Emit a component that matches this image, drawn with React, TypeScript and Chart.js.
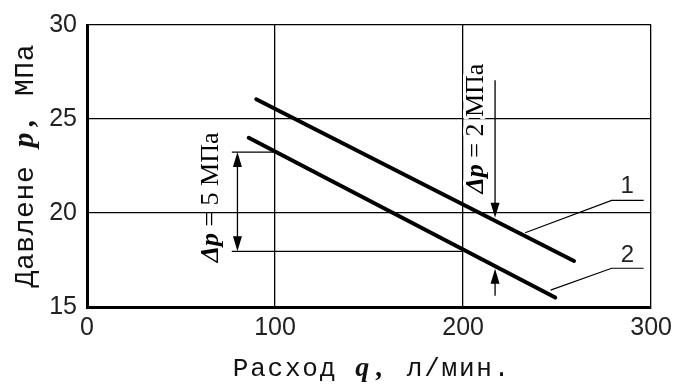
import React, { useEffect, useRef } from "react";
import { Chart, registerables } from "chart.js";

Chart.register(...registerables);

// ---- data (chart units: q in л/мин, p in МПа) ----
const xTickValues = [0, 100, 200, 300];
const yTickValues = [15, 20, 25, 30];

const line1Flow = [90, 259];
const line1Pressure = [26.05, 17.45];
const line2Flow = [86, 249];
const line2Pressure = [24.0, 15.5];

const seriesLabels = ["1", "2"];

const xTitleParts = ["Расход ", "q,", " л/мин."];
const yTitleParts = ["Давлене ", "p,", " МПа"];

// Δp = 5 МПа dimension (line 2 between q = 100 and q = 200)
const dp5Text = ["Δp", " = 5 МПа"];
const dp5RefFlow = [100, 200];
const dp5Levels = [23.24, 17.96];
const dp5TickStart = 77;
const dp5ArrowFlow = 80;
const dp5TextAt = [69.7, 20.83];

// Δp = 2 МПа dimension (between lines 1 and 2 at q ≈ 217)
const dp2Text = ["Δp", " = 2 МПа"];
const dp2ArrowFlow = 217;
const dp2UpperArrow = [27.06, 19.75];
const dp2LowerArrow = [15.6, 17.03];
const dp2TextAt = [210.8, 24.49];

// leader lines for curve numbers
const leader1Flow = [233, 279, 296];
const leader1Pressure = [18.95, 20.67, 20.67];
const leader2Flow = [246.5, 279, 296];
const leader2Pressure = [15.9, 17.06, 17.06];
const labelPos1 = [287.2, 21.07];
const labelPos2 = [287.4, 17.37];

const SERIF = '"Liberation Serif", "Times New Roman", serif';
const MONO = '"Liberation Mono", "Courier New", monospace';
const SANS = '"Liberation Sans", Arial, sans-serif';

function arrowHead(ctx: CanvasRenderingContext2D, x: number, tipY: number, dir: number) {
  const len = 15;
  const hw = 4.5;
  ctx.beginPath();
  ctx.moveTo(x, tipY);
  ctx.lineTo(x - hw, tipY - dir * len);
  ctx.lineTo(x + hw, tipY - dir * len);
  ctx.closePath();
  ctx.fill();
}

function drawCellTitle(
  ctx: CanvasRenderingContext2D,
  parts: string[],
  monoFont: string,
  emFont: string,
  cell: number,
  cx: number,
  cy: number,
  rotate: boolean
) {
  const chars: { c: string; f: string }[] = [];
  parts.forEach((p, i) => {
    for (const c of p) chars.push({ c, f: i === 1 ? emFont : monoFont });
  });
  const total = chars.length * cell;
  ctx.save();
  ctx.translate(cx, cy);
  if (rotate) ctx.rotate(-Math.PI / 2);
  ctx.fillStyle = "#111";
  ctx.textAlign = "center";
  ctx.textBaseline = "alphabetic";
  chars.forEach((ch, i) => {
    ctx.font = ch.f;
    ctx.fillText(ch.c, -total / 2 + i * cell + cell / 2, 0);
  });
  ctx.restore();
}

function drawRotatedRuns(
  ctx: CanvasRenderingContext2D,
  runs: string[],
  emFont: string,
  font: string,
  baselineX: number,
  centerY: number,
  halo: boolean
) {
  ctx.save();
  ctx.translate(baselineX, centerY);
  ctx.rotate(-Math.PI / 2);
  ctx.textAlign = "left";
  ctx.textBaseline = "alphabetic";
  const fonts = [emFont, font];
  let total = 0;
  runs.forEach((r, i) => {
    ctx.font = fonts[i];
    total += ctx.measureText(r).width;
  });
  let x = -total / 2;
  runs.forEach((r, i) => {
    ctx.font = fonts[i];
    if (halo) {
      ctx.strokeStyle = "#fff";
      ctx.lineWidth = 6;
      ctx.lineJoin = "round";
      ctx.strokeText(r, x, 0);
    }
    ctx.fillStyle = "#000";
    ctx.fillText(r, x, 0);
    x += ctx.measureText(r).width;
  });
  ctx.restore();
}

const annotationPlugin = {
  id: "annotations",
  afterDatasetsDraw(chart: any) {
    const ctx: CanvasRenderingContext2D = chart.ctx;
    const xs = chart.scales.x;
    const ys = chart.scales.y;
    const X = (v: number) => xs.getPixelForValue(v);
    const Y = (v: number) => ys.getPixelForValue(v);
    const area = chart.chartArea;

    ctx.save();
    ctx.strokeStyle = "#000";
    ctx.fillStyle = "#000";
    ctx.lineWidth = 1.3;

    ctx.beginPath();
    ctx.moveTo(X(dp5TickStart), Y(dp5Levels[0]));
    ctx.lineTo(X(dp5RefFlow[0]), Y(dp5Levels[0]));
    ctx.moveTo(X(dp5TickStart), Y(dp5Levels[1]));
    ctx.lineTo(X(dp5RefFlow[1]), Y(dp5Levels[1]));
    ctx.stroke();
    const ax = X(dp5ArrowFlow);
    ctx.beginPath();
    ctx.moveTo(ax, Y(dp5Levels[0]) + 10);
    ctx.lineTo(ax, Y(dp5Levels[1]) - 10);
    ctx.stroke();
    arrowHead(ctx, ax, Y(dp5Levels[0]), -1);
    arrowHead(ctx, ax, Y(dp5Levels[1]), 1);

    const bx = X(dp2ArrowFlow);
    ctx.beginPath();
    ctx.moveTo(bx, Y(dp2UpperArrow[0]));
    ctx.lineTo(bx, Y(dp2UpperArrow[1]) - 10);
    ctx.moveTo(bx, Y(dp2LowerArrow[0]));
    ctx.lineTo(bx, Y(dp2LowerArrow[1]) + 10);
    ctx.stroke();
    arrowHead(ctx, bx, Y(dp2UpperArrow[1]), 1);
    arrowHead(ctx, bx, Y(dp2LowerArrow[1]), -1);

    const leaders = [
      [leader1Flow, leader1Pressure],
      [leader2Flow, leader2Pressure],
    ];
    ctx.lineWidth = 1.2;
    leaders.forEach(([fx, py]) => {
      ctx.beginPath();
      fx.forEach((f, i) => {
        if (i === 0) ctx.moveTo(X(f), Y(py[i]));
        else ctx.lineTo(X(f), Y(py[i]));
      });
      ctx.stroke();
    });

    ctx.font = `24px ${SANS}`;
    ctx.textAlign = "center";
    ctx.textBaseline = "alphabetic";
    ctx.fillStyle = "#222";
    ctx.fillText(seriesLabels[0], X(labelPos1[0]), Y(labelPos1[1]));
    ctx.fillText(seriesLabels[1], X(labelPos2[0]), Y(labelPos2[1]));
    ctx.restore();

    const em = `bold italic 26px ${SERIF}`;
    const reg = `26px ${SERIF}`;
    drawRotatedRuns(ctx, dp5Text, em, reg, X(dp5TextAt[0]), Y(dp5TextAt[1]), false);
    drawRotatedRuns(ctx, dp2Text, em, reg, X(dp2TextAt[0]), Y(dp2TextAt[1]), true);

    const cxMid = (area.left + area.right) / 2;
    const cyMid = (area.top + area.bottom) / 2;
    drawCellTitle(ctx, xTitleParts, `26px ${MONO}`, `bold italic 28px ${SERIF}`, 17.4, cxMid + 2, area.bottom + 69, false);
    drawCellTitle(ctx, yTitleParts, `28px ${MONO}`, `bold italic 30px ${SERIF}`, 17.4, area.left - 54, cyMid, true);
  },
};

export default function App() {
  const ref = useRef<HTMLCanvasElement | null>(null);

  useEffect(() => {
    if (!ref.current) return;
    const chart = new Chart(ref.current, {
      type: "line",
      data: {
        datasets: [
          {
            label: seriesLabels[0],
            data: line1Flow.map((q, i) => ({ x: q, y: line1Pressure[i] })),
            borderColor: "#000",
            borderWidth: 4,
            borderCapStyle: "round",
            pointRadius: 0,
            fill: false,
          },
          {
            label: seriesLabels[1],
            data: line2Flow.map((q, i) => ({ x: q, y: line2Pressure[i] })),
            borderColor: "#000",
            borderWidth: 4,
            borderCapStyle: "round",
            pointRadius: 0,
            fill: false,
          },
        ],
      },
      options: {
        animation: false,
        responsive: false,
        layout: { padding: { left: 0, top: 23, right: 22, bottom: 0 } },
        plugins: {
          legend: { display: false },
          tooltip: { enabled: false },
          title: { display: false },
        },
        scales: {
          x: {
            type: "linear",
            min: xTickValues[0],
            max: xTickValues[xTickValues.length - 1],
            afterBuildTicks: (s: any) => {
              s.ticks = xTickValues.map((v) => ({ value: v }));
            },
            afterFit: (s: any) => {
              s.height = 78;
            },
            ticks: {
              color: "#222",
              font: { family: SANS, size: 25 },
              padding: 6,
              maxRotation: 0,
              autoSkip: false,
            },
            grid: { color: "#000", lineWidth: 1.3, drawTicks: false },
            border: { display: true, color: "#000", width: 3 },
          },
          y: {
            type: "linear",
            min: yTickValues[0],
            max: yTickValues[yTickValues.length - 1],
            afterBuildTicks: (s: any) => {
              s.ticks = yTickValues.map((v) => ({ value: v }));
            },
            afterFit: (s: any) => {
              s.width = 87;
            },
            ticks: {
              color: "#222",
              font: { family: SANS, size: 25 },
              padding: 10,
              autoSkip: false,
            },
            grid: { color: "#000", lineWidth: 1.3, drawTicks: false },
            border: { display: true, color: "#000", width: 3 },
          },
        },
      } as any,
      plugins: [annotationPlugin],
    });
    return () => chart.destroy();
  }, []);

  return (
    <div style={{ position: "fixed", left: 0, top: 0, width: 678, height: 385, background: "#fff" }}>
      <canvas ref={ref} width={678} height={385} style={{ display: "block" }} />
    </div>
  );
}
